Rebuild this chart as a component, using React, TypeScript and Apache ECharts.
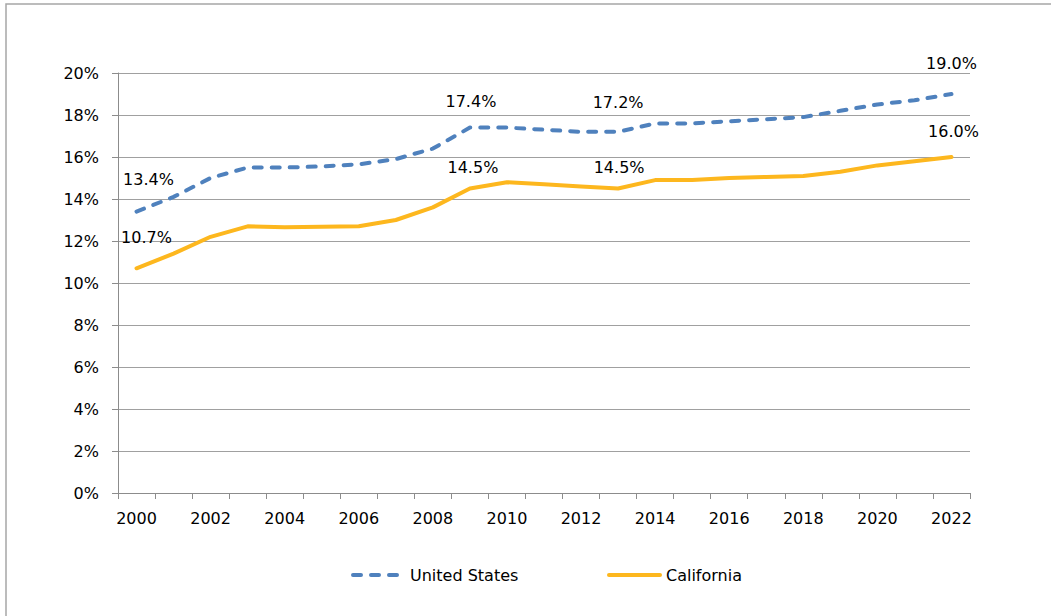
import React, { useEffect, useRef } from "react";
import * as echarts from "echarts";

const years = ["2000","2001","2002","2003","2004","2005","2006","2007","2008","2009","2010","2011","2012","2013","2014","2015","2016","2017","2018","2019","2020","2021","2022"];
const unitedStates = [13.4, 14.1, 15.0, 15.5, 15.5, 15.55, 15.65, 15.9, 16.4, 17.4, 17.4, 17.3, 17.2, 17.2, 17.6, 17.6, 17.7, 17.8, 17.9, 18.2, 18.5, 18.7, 19.0];
const california = [10.7, 11.4, 12.2, 12.7, 12.65, 12.68, 12.7, 13.0, 13.6, 14.5, 14.8, 14.7, 14.6, 14.5, 14.9, 14.9, 15.0, 15.05, 15.1, 15.3, 15.6, 15.8, 16.0];
const yTicks = [0, 2, 4, 6, 8, 10, 12, 14, 16, 18, 20];
const labelIndexes = [0, 9, 13, 22];
const legendNames = ["United States", "California"];

const usLabelOffsets: Record<number, number[]> = { 0: [12, -22], 9: [1, -16], 13: [0, -19], 22: [0, -21] };
const caLabelOffsets: Record<number, number[]> = { 0: [10, -21], 9: [3, -11], 13: [1, -11], 22: [2, -16] };

const FONT = "DejaVu Sans";
const US_COLOR = "#4F81BD";
const CA_COLOR = "#FDB71E";

function labelData(values: number[], offsets: Record<number, number[]>) {
  return values.map((v, i) =>
    labelIndexes.includes(i)
      ? {
          value: v,
          label: {
            show: true,
            position: "top",
            distance: 0,
            offset: offsets[i],
            formatter: (p: any) => Number(p.value).toFixed(1) + "%",
            color: "#000",
            opacity: 1,
            fontFamily: FONT,
            fontSize: 16,
            lineHeight: 18,
          },
        }
      : "-"
  );
}

export default function App() {
  const ref = useRef<HTMLDivElement>(null);
  useEffect(() => {
    if (!ref.current) return;
    const chart = echarts.init(ref.current, undefined, { renderer: "svg" });
    chart.setOption({
      animation: false,
      backgroundColor: "#fff",
      textStyle: { fontFamily: FONT },
      graphic: [
        {
          type: "rect",
          shape: { x: 6, y: 4, width: 1100, height: 700 },
          style: { fill: "none", stroke: "#A6A6A6", lineWidth: 1.5 },
          silent: true,
          z: -10,
        },
        {
          type: "line",
          shape: { x1: 353, y1: 575, x2: 397, y2: 575 },
          style: { stroke: US_COLOR, lineWidth: 4, lineDash: [8, 10], lineCap: "round" },
          silent: true,
        },
        {
          type: "text",
          x: 410,
          y: 575,
          style: { text: legendNames[0], fill: "#000", font: `16px "${FONT}"`, verticalAlign: "middle" },
          silent: true,
        },
        {
          type: "line",
          shape: { x1: 609, y1: 575, x2: 660, y2: 575 },
          style: { stroke: CA_COLOR, lineWidth: 4, lineCap: "round" },
          silent: true,
        },
        {
          type: "text",
          x: 666,
          y: 575,
          style: { text: legendNames[1], fill: "#000", font: `16px "${FONT}"`, verticalAlign: "middle" },
          silent: true,
        },
      ],
      grid: { left: 118, right: 81, top: 73, bottom: 123, containLabel: false },
      xAxis: {
        type: "category",
        data: years,
        boundaryGap: true,
        axisLine: { lineStyle: { color: "#8C8C8C", width: 1 } },
        axisTick: { show: true, interval: 0, length: 6, lineStyle: { color: "#8C8C8C" } },
        axisLabel: { interval: 1, margin: 17, color: "#000", fontFamily: FONT, fontSize: 16 },
        splitLine: { show: false },
      },
      yAxis: {
        type: "value",
        min: yTicks[0],
        max: yTicks[yTicks.length - 1],
        interval: 2,
        axisLine: { show: true, lineStyle: { color: "#8C8C8C", width: 1 } },
        axisTick: { show: true, length: 6, lineStyle: { color: "#8C8C8C" } },
        axisLabel: { margin: 19, color: "#000", fontFamily: FONT, fontSize: 16, formatter: (v: number) => v + "%" },
        splitLine: { show: true, lineStyle: { color: "#A0A0A0", width: 1 } },
      },
      series: [
        {
          name: legendNames[0],
          type: "line",
          data: unitedStates,
          symbol: "none",
          color: US_COLOR,
          lineStyle: { color: US_COLOR, width: 4, type: [8, 10], cap: "round" },
          z: 3,
        },
        {
          name: legendNames[1],
          type: "line",
          data: california,
          symbol: "none",
          color: CA_COLOR,
          lineStyle: { color: CA_COLOR, width: 4, cap: "round" },
          z: 2,
        },
        {
          name: "US labels",
          type: "scatter",
          data: labelData(unitedStates, usLabelOffsets),
          symbolSize: 2,
          itemStyle: { color: "rgba(0,0,0,0)", opacity: 1 },
          z: 5,
        },
        {
          name: "CA labels",
          type: "scatter",
          data: labelData(california, caLabelOffsets),
          symbolSize: 2,
          itemStyle: { color: "rgba(0,0,0,0)", opacity: 1 },
          z: 5,
        },
      ],
    });
    return () => chart.dispose();
  }, []);
  return <div ref={ref} style={{ position: "fixed", left: 0, top: 0, width: 1051, height: 616 }} />;
}
